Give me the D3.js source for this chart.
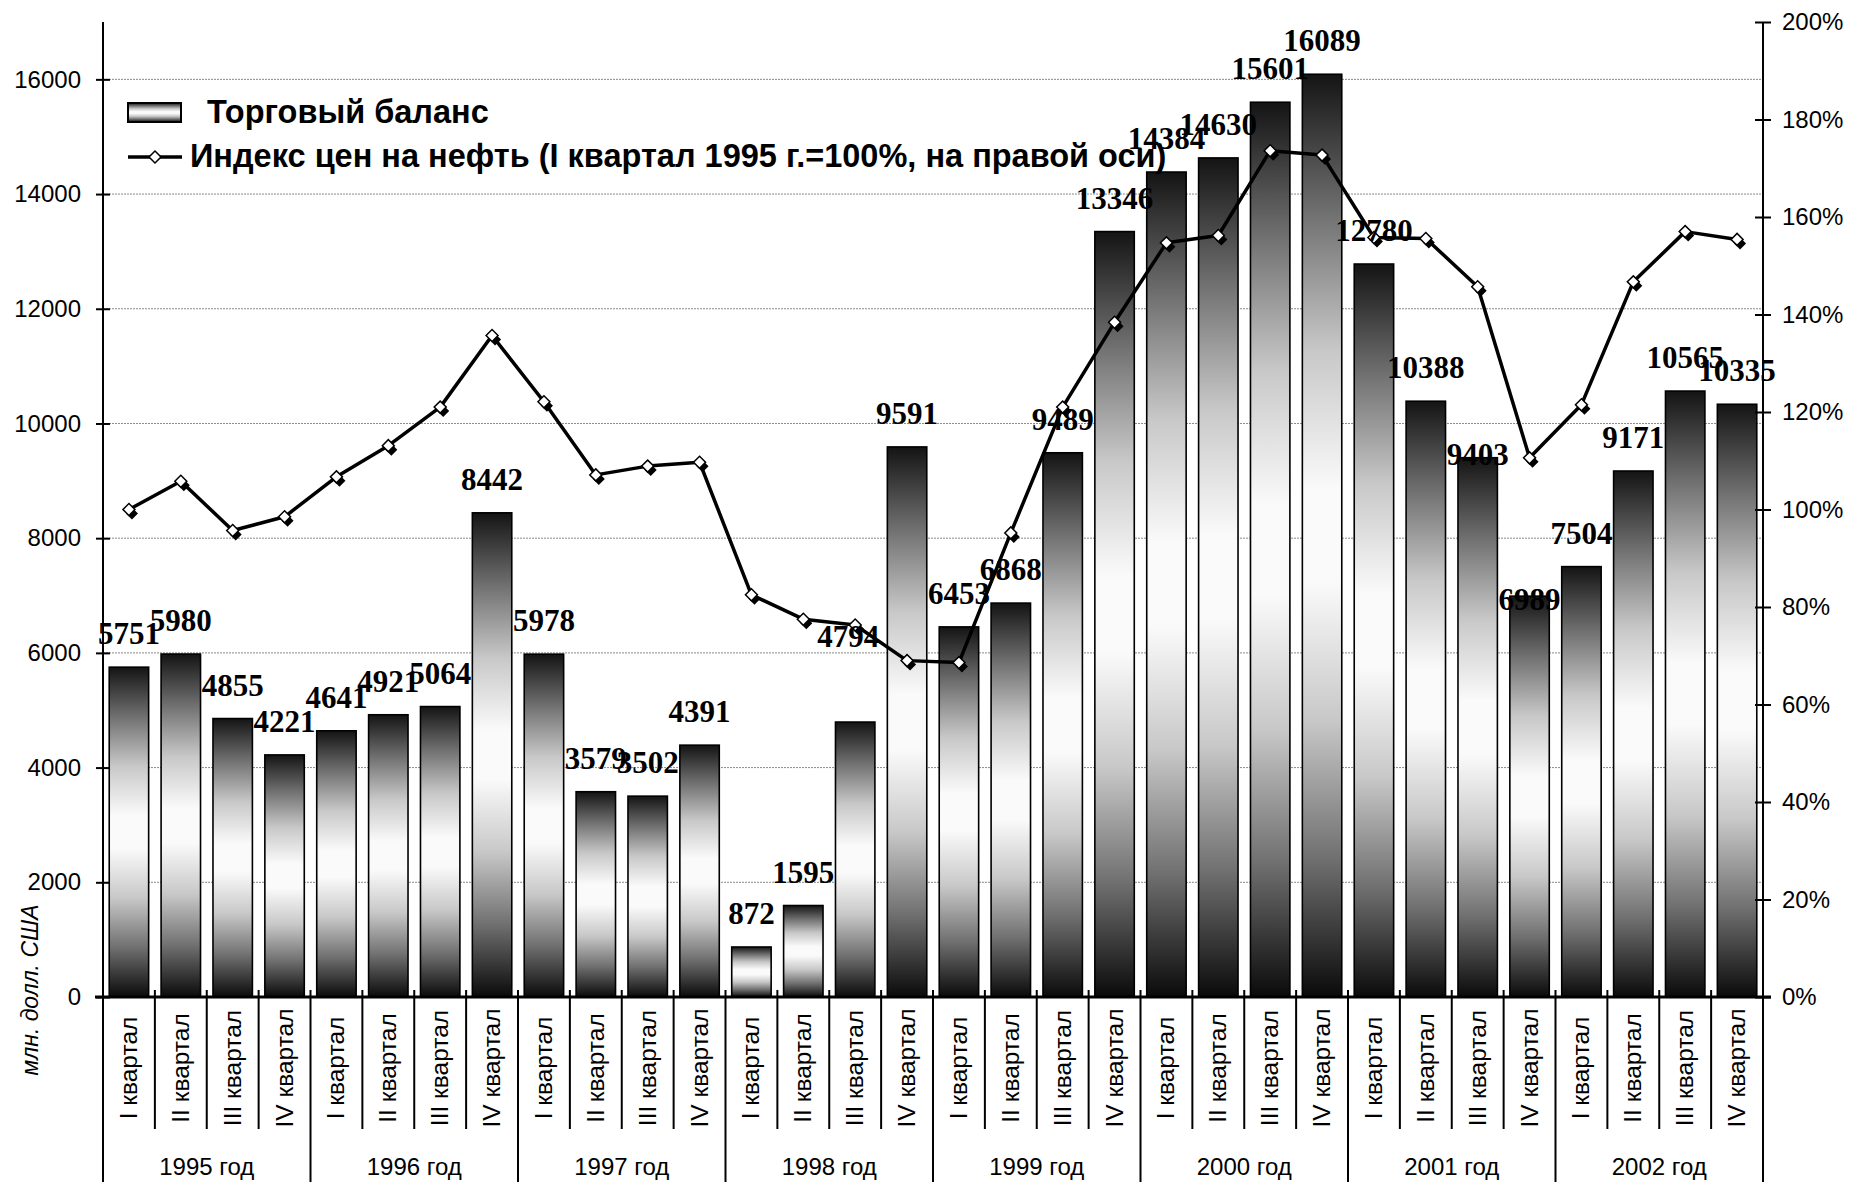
<!DOCTYPE html>
<html><head><meta charset="utf-8">
<script src="https://cdn.jsdelivr.net/npm/d3@7"></script>
<style>body{margin:0;background:#fff}svg{display:block}</style>
</head><body><svg id="c" width="1850" height="1182"></svg>
<script>
// ---- data ----
const years = ["1995 год","1996 год","1997 год","1998 год","1999 год","2000 год","2001 год","2002 год"];
const quarters = ["I квартал","II квартал","III квартал","IV квартал"];
const tradeBalance = [5751,5980,4855,4221, 4641,4921,5064,8442, 5978,3579,3502,4391, 872,1595,4794,9591,
                      6453,6868,9489,13346, 14384,14630,15601,16089, 12780,10388,9403,6989, 7504,9171,10565,10335];
const oilIndex = [100,105.8,95.7,98.5, 106.7,113.1,121,135.7, 122.1,107.1,108.9,109.7, 82.5,77.5,76.3,69.0,
                  68.6,95.2,121,138.4, 154.7,156.2,173.6,172.7, 155.8,155.6,145.7,110.6, 121.5,146.7,157,155.4];
const leftTicks = [0,2000,4000,6000,8000,10000,12000,14000,16000];
const rightTicks = [0,20,40,60,80,100,120,140,160,180,200];
const legendBar = "Торговый баланс";
const legendLine = "Индекс цен на нефть (I квартал 1995 г.=100%, на правой оси)";
const yTitle = "млн. долл. США";

// label placement tweaks (layout, not data)
const labelShift = {14:{dx:-7,dy:-52}, 26:{dx:0,dy:30}, 27:{dx:0,dy:37}};

const svg = d3.select("#c");
const L = 103, R = 1763, T = 22, B = 997;
const cats = d3.range(tradeBalance.length);
const xBand = d3.scaleBand().domain(cats).range([L,R]).paddingInner(0.24).paddingOuter(0.12);
const xCat = d3.scaleBand().domain(cats).range([L,R]).padding(0);
const yL = d3.scaleLinear().domain([0,17000]).range([B,T]);
const yR = d3.scaleLinear().domain([0,200]).range([B,T]);
const cx = i => xCat(i) + xCat.bandwidth()/2;

// gradient
const defs = svg.append("defs");
const g = defs.append("linearGradient").attr("id","bg").attr("x1",0).attr("y1",0).attr("x2",0).attr("y2",1);
[[0,"#141414"],[0.15,"#707070"],[0.3,"#c8c8c8"],[0.45,"#fafafa"],[0.55,"#fafafa"],[0.7,"#c8c8c8"],[0.85,"#707070"],[1,"#0a0a0a"]]
  .forEach(([o,c])=>g.append("stop").attr("offset",o).attr("stop-color",c));

// gridlines
svg.append("g").selectAll("line").data(leftTicks.filter(d=>d>0)).join("line")
  .attr("x1",L).attr("x2",R).attr("y1",d=>yL(d)).attr("y2",d=>yL(d))
  .attr("stroke","#8a8a8a").attr("stroke-width",1).attr("stroke-dasharray","2,1");

// bars
svg.append("g").selectAll("rect").data(tradeBalance).join("rect")
  .attr("x",(d,i)=>xBand(i)).attr("width",xBand.bandwidth())
  .attr("y",d=>yL(d)).attr("height",d=>B-yL(d))
  .attr("fill","url(#bg)").attr("stroke","#000").attr("stroke-width",1.6);

// left axis
const axL = svg.append("g").attr("transform",`translate(${L},0)`)
  .call(d3.axisLeft(yL).tickValues(leftTicks).tickSize(7).tickPadding(15).tickFormat(d3.format("d")));
axL.select(".domain").remove();
axL.selectAll(".tick line").attr("x1",-7).attr("x2",7).attr("stroke","#000").attr("stroke-width",2);
axL.selectAll("text").attr("font-family","'Liberation Sans',Arial,sans-serif").attr("font-size",24).attr("fill","#000");

// right axis
const axR = svg.append("g").attr("transform",`translate(${R},0)`)
  .call(d3.axisRight(yR).tickValues(rightTicks).tickSize(8).tickPadding(11).tickFormat(d=>d+"%"));
axR.select(".domain").remove();
axR.selectAll(".tick line").attr("x1",-8).attr("x2",8).attr("stroke","#000").attr("stroke-width",2);
axR.selectAll("text").attr("font-family","'Liberation Sans',Arial,sans-serif").attr("font-size",24).attr("fill","#000");

// axis lines
svg.append("line").attr("x1",L).attr("x2",L).attr("y1",T).attr("y2",1182).attr("stroke","#000").attr("stroke-width",2);
svg.append("line").attr("x1",R).attr("x2",R).attr("y1",T).attr("y2",1182).attr("stroke","#000").attr("stroke-width",2);
svg.append("line").attr("x1",L-8).attr("x2",R+8).attr("y1",B).attr("y2",B).attr("stroke","#000").attr("stroke-width",3);

// category separators
const bounds = d3.range(1, tradeBalance.length);
svg.append("g").selectAll("line").data(bounds).join("line")
  .attr("x1",i=>xCat(i)).attr("x2",i=>xCat(i))
  .attr("y1",990).attr("y2",i=> i%4===0 ? 1182 : 1129)
  .attr("stroke","#000").attr("stroke-width",2);

// quarter labels
svg.append("g").selectAll("text").data(cats).join("text")
  .attr("transform",i=>`translate(${cx(i)+8},1068) rotate(-90)`)
  .attr("text-anchor","middle").attr("font-family","'Liberation Sans',Arial,sans-serif").attr("font-size",24.5)
  .text(i=>quarters[i%4]);

// year labels
svg.append("g").selectAll("text").data(years).join("text")
  .attr("x",(d,k)=>(xCat(k*4)+xCat(k*4+3)+xCat.bandwidth())/2).attr("y",1175)
  .attr("text-anchor","middle").attr("font-family","'Liberation Sans',Arial,sans-serif").attr("font-size",24)
  .text(d=>d);

// y title
svg.append("text").attr("transform","translate(38,990) rotate(-90)")
  .attr("text-anchor","middle").attr("font-family","'Liberation Sans',Arial,sans-serif")
  .attr("font-style","italic").attr("font-size",23).text(yTitle);

// line
svg.append("path").datum(oilIndex)
  .attr("d",d3.line().x((d,i)=>cx(i)).y(d=>yR(d)))
  .attr("fill","none").attr("stroke","#000").attr("stroke-width",3.5).attr("stroke-linejoin","round");
const sym = d3.symbol(d3.symbolSquare, 72);
svg.append("g").selectAll("path").data(oilIndex).join("path")
  .attr("d",sym).attr("transform",(d,i)=>`translate(${cx(i)+3},${yR(d)+4}) rotate(45)`).attr("fill","#000");
svg.append("g").selectAll("path").data(oilIndex).join("path")
  .attr("d",sym).attr("transform",(d,i)=>`translate(${cx(i)},${yR(d)}) rotate(45)`)
  .attr("fill","#fff").attr("stroke","#000").attr("stroke-width",1.5);

// data labels
svg.append("g").selectAll("text").data(tradeBalance).join("text")
  .attr("x",(d,i)=>cx(i)+((labelShift[i]||{}).dx||0))
  .attr("y",(d,i)=>yL(d)-23+((labelShift[i]||{}).dy||0))
  .attr("text-anchor","middle").attr("font-family","'Liberation Serif','Times New Roman',serif")
  .attr("font-weight","bold").attr("font-size",31).text(d=>d);

// legend
const lg = svg.append("g");
lg.append("rect").attr("x",128).attr("y",103).attr("width",53).attr("height",19)
  .attr("fill","url(#bg)").attr("stroke","#000").attr("stroke-width",2);
lg.append("text").attr("x",207).attr("y",123).attr("font-family","'Liberation Sans',Arial,sans-serif")
  .attr("font-weight","bold").attr("font-size",32.5).text(legendBar);
lg.append("line").attr("x1",128).attr("x2",182).attr("y1",157).attr("y2",157).attr("stroke","#000").attr("stroke-width",3.5);
lg.append("path").attr("d",sym).attr("transform","translate(155,157) rotate(45)")
  .attr("fill","#fff").attr("stroke","#000").attr("stroke-width",1.5);
lg.append("text").attr("x",190).attr("y",167).attr("font-family","'Liberation Sans',Arial,sans-serif")
  .attr("font-weight","bold").attr("font-size",32.5).text(legendLine);
</script></body></html>
